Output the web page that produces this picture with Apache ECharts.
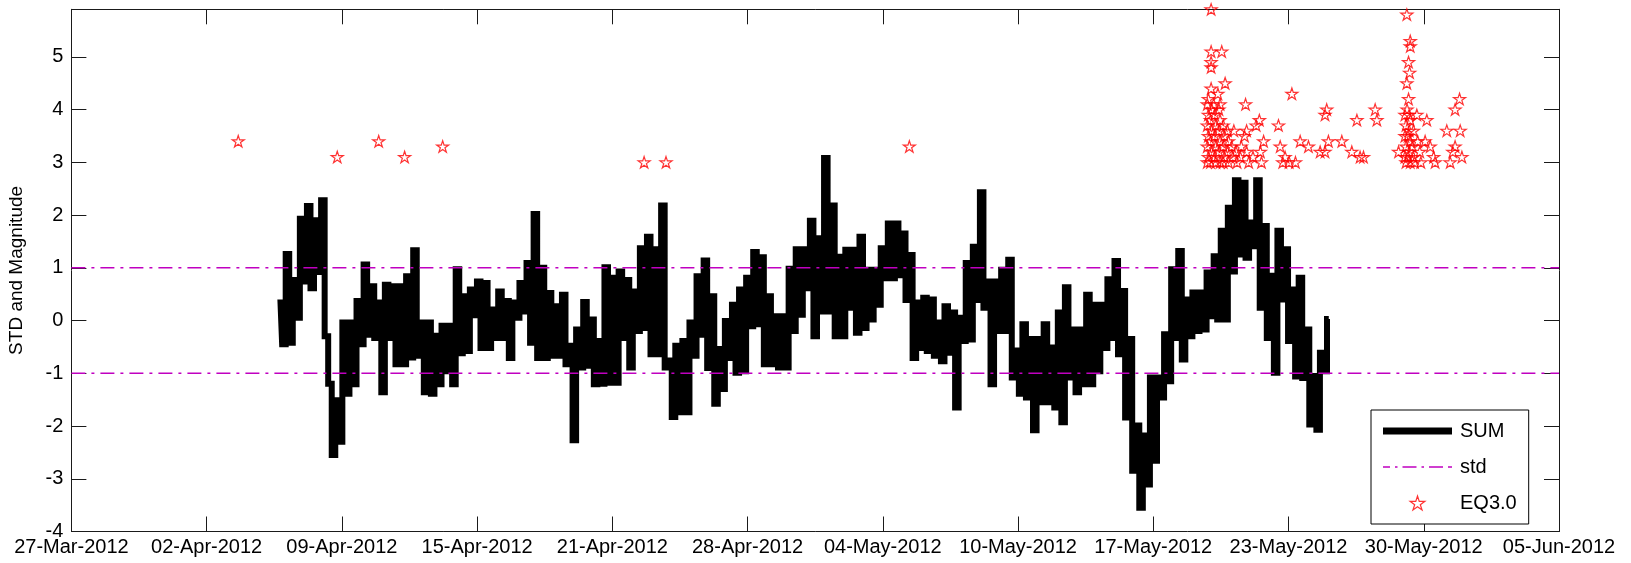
<!DOCTYPE html>
<html>
<head>
<meta charset="utf-8">
<script src="https://cdn.jsdelivr.net/npm/echarts@6/dist/echarts.min.js"></script>
<style>
html,body{margin:0;padding:0;background:#ffffff;}
#chart{width:1631px;height:563px;}
</style>
</head>
<body>
<div id="chart"></div>
<script>
// ---- data ----
const tickLabels = ['27-Mar-2012','02-Apr-2012','09-Apr-2012','15-Apr-2012','21-Apr-2012','28-Apr-2012',
  '04-May-2012','10-May-2012','17-May-2012','23-May-2012','30-May-2012','05-Jun-2012'];
const xSpanDays = 70;            // axis span in days
const sumStartDay = 9.8333;      // first SUM sample (days after axis start)
const sumStepDay = 1 / 6;        // 4-hour sampling
const sumValues = [
  0.40,-0.45,1.26,-0.42,0.77,0.05,1.93,0.74,2.17,0.61,1.90,0.92,2.28,-0.30,-1.20,-2.55,-1.51,-2.30,-0.04,-1.39,
  -0.04,-1.21,0.37,-0.45,1.06,-0.27,0.65,-0.33,0.34,-1.36,0.68,-0.33,0.65,-0.83,0.65,-0.83,0.84,-0.70,1.33,-0.67,
  -0.04,-1.36,-0.04,-1.39,-0.29,-1.21,-0.10,-0.96,-0.10,-1.21,0.97,-0.62,0.46,-0.58,0.59,0.10,0.74,-0.52,0.71,-0.52,
  0.21,-0.33,0.55,-0.33,0.37,-0.71,0.34,0.05,0.71,0.17,1.09,-0.42,2.02,-0.71,1.00,-0.71,0.52,-0.67,0.27,-0.67,
  0.49,-0.83,-0.48,-2.27,-0.17,-0.89,0.35,-0.86,0.02,-1.21,-0.39,-1.20,1.01,-1.18,0.81,-1.18,0.93,-0.33,0.77,-0.89,
  0.55,-0.20,1.37,-0.14,1.59,-0.64,1.35,-0.64,2.18,-0.89,-0.76,-1.83,-0.48,-1.74,-0.39,-1.74,-0.04,-0.67,0.84,-0.27,
  1.14,-0.90,0.46,-1.58,-0.54,-1.30,-0.01,-0.71,0.30,-0.99,0.59,-0.96,0.81,-0.11,1.30,-0.07,1.20,-0.83,0.46,-0.83,
  0.08,-0.89,0.08,-0.89,0.98,-0.20,1.35,0.11,1.35,0.61,1.89,-0.30,1.56,0.17,3.08,0.17,2.18,-0.30,1.21,-0.30,
  1.34,0.24,1.34,-0.23,1.59,-0.14,0.96,0.02,0.96,0.30,1.37,0.80,1.84,0.80,1.84,0.86,1.65,0.39,1.24,-0.71,
  0.34,-0.52,0.43,-0.58,0.40,-0.67,-0.04,-0.77,0.27,-0.61,0.15,-1.65,0.05,-0.39,1.09,-0.36,1.40,0.39,2.43,0.24,
  0.74,-1.21,0.74,-0.20,0.96,-0.20,1.15,-1.08,-0.57,-1.39,-0.07,-1.46,-0.35,-2.08,-0.35,-1.55,-0.07,-1.55,-0.51,-1.65,
  0.15,-1.93,0.63,-1.08,-0.17,-1.36,-0.17,-1.21,0.49,-1.21,0.30,-0.96,0.30,-0.52,0.78,-0.33,1.13,-0.64,0.56,-1.84,
  -0.35,-2.85,-1.99,-3.55,-2.18,-3.11,-1.08,-2.66,-1.08,-1.46,-0.26,-1.15,0.97,-0.33,1.32,-0.74,0.40,-0.30,0.53,-0.20,
  0.53,-0.17,0.91,0.08,1.22,0.02,1.70,0.02,2.14,0.93,2.66,1.25,2.61,1.19,1.86,1.41,2.66,0.24,1.79,-0.33,
  0.85,-0.99,1.70,0.40,1.35,-0.39,0.59,-1.06,0.81,-1.09,-0.17,-1.97,-1.05,-2.07,-0.61,-0.96,0.03
];
const stdLevels = [1, -1];
const eqDays = [
  7.85,12.51,14.46,15.68,17.47,26.95,27.98,39.43,
  53.63,53.63,54.13,53.63,53.63,54.29,53.63,53.95,53.50,53.75,54.05,
  53.45,53.50,53.45,53.50,53.45,53.50,53.45,
  53.65,53.60,53.65,53.60,53.65,53.60,
  53.80,53.85,53.80,53.85,53.80,53.85,
  54.00,54.05,54.00,54.05,54.00,54.05,
  54.20,54.25,54.20,54.25,54.20,
  54.40,54.45,54.40,54.45,
  54.60,54.65,54.70,54.85,54.80,
  55.00,55.05,55.20,55.25,55.30,55.30,55.40,
  55.60,55.75,55.90,55.95,56.00,56.10,
  56.80,56.88,57.43,57.11,57.00,57.30,57.60,57.82,58.21,58.76,59.07,58.99,59.15,58.99,59.78,60.25,60.64,60.49,60.80,61.35,61.43,62.45,
  62.84,63.00,63.00,62.92,62.97,62.84,62.92,62.85,
  62.75,62.80,62.75,62.80,62.75,62.80,
  62.95,63.00,62.95,63.00,62.95,63.00,62.90,62.90,
  63.15,63.10,63.15,63.20,
  63.31,63.35,63.45,63.50,
  63.78,63.70,63.94,64.10,64.17,
  64.72,65.35,65.11,65.32,65.11,65.43,64.88,65.00
];
const eqMagnitudes = [
  3.4,3.1,3.4,3.1,3.3,3.0,3.0,3.3,
  5.9,5.1,5.1,4.9,4.8,4.5,4.4,4.3,4.2,4.1,4.1,
  4.1,3.9,3.7,3.5,3.3,3.1,3.0,
  4.0,3.8,3.6,3.4,3.2,3.0,
  3.9,3.7,3.5,3.3,3.1,3.0,
  4.0,3.8,3.6,3.4,3.2,3.0,
  3.7,3.5,3.3,3.1,3.0,
  3.6,3.4,3.2,3.0,
  3.3,3.1,3.6,3.0,3.2,
  3.1,3.3,3.5,4.1,3.6,3.2,3.0,
  3.1,3.7,3.8,3.2,3.0,3.4,
  3.7,3.3,4.3,3.1,3.0,3.0,3.0,3.4,3.3,3.2,4.0,3.9,3.4,3.2,3.4,3.2,3.1,3.8,3.1,4.0,3.8,3.2,
  5.8,5.3,5.2,4.9,4.7,4.5,4.2,4.0,
  3.9,3.7,3.5,3.3,3.1,3.0,
  3.9,3.8,3.6,3.4,3.2,3.0,3.5,3.1,
  3.6,3.3,3.1,3.0,
  3.9,3.4,3.2,3.0,
  3.8,3.4,3.3,3.1,3.0,
  3.6,3.6,4.0,4.2,3.3,3.1,3.0,3.2
];
const yMin = -4, yMax = 5.9;

// ---- build ----
const FONT = "'Liberation Sans', Arial, Helvetica, sans-serif";
const xTickStep = xSpanDays / (tickLabels.length - 1);
const sumData = sumValues.map((v, i) => [sumStartDay + i * sumStepDay, v]);
const eqData = eqDays.map((d, i) => [d, eqMagnitudes[i]]);
const STAR = 'path://M50,0 L61.2,34.5 L97.6,34.5 L68.2,55.9 L79.4,90.5 L50,69.1 L20.6,90.5 L31.8,55.9 L2.4,34.5 L38.8,34.5 Z';
const SUM_ICON = 'path://M0,0 L69,0 L69,7 L0,7 Z';
const STD_ICON = 'path://M0,0 L7,0 L7,1.4 L0,1.4 Z M12,0 L14.5,0 L14.5,1.4 L12,1.4 Z M19.5,0 L33.5,0 L33.5,1.4 L19.5,1.4 Z ' +
  'M38.5,0 L41,0 L41,1.4 L38.5,1.4 Z M46,0 L60,0 L60,1.4 L46,1.4 Z M65,0 L69,0 L69,1.4 L65,1.4 Z';
const AXC = '#1a1a1a';
const MAG = '#c000c0';

function xLabel(v) {
  const k = Math.round(v / xTickStep);
  return Math.abs(v - k * xTickStep) < 1e-6 ? (tickLabels[k] || '') : '';
}
function yLabel(v) {
  return Math.abs(v - Math.round(v)) < 1e-9 ? String(Math.round(v)) : '';
}
const baseX = {
  type: 'value', min: 0, max: xSpanDays, interval: xTickStep,
  axisLine: {show: true, onZero: false, lineStyle: {color: AXC, width: 1}},
  axisTick: {show: true, inside: true, length: 15, lineStyle: {color: AXC, width: 1}},
  splitLine: {show: false}
};
const baseY = {
  type: 'value', min: yMin, max: yMax, interval: 1,
  axisLine: {show: true, onZero: false, lineStyle: {color: AXC, width: 1}},
  axisTick: {show: true, inside: true, length: 15, lineStyle: {color: AXC, width: 1}},
  splitLine: {show: false}
};

const chart = echarts.init(document.getElementById('chart'), null, {renderer: 'canvas'});
chart.setOption({
  animation: false,
  backgroundColor: '#ffffff',
  grid: {left: 71.4, right: 72, top: 9.3, bottom: 31.5, containLabel: false, outerBoundsMode: 'none'},
  xAxis: [
    Object.assign({}, baseX, {position: 'bottom',
      axisLabel: {show: true, formatter: xLabel, color: '#000', fontSize: 20, fontFamily: FONT, margin: 6,
        showMinLabel: true, showMaxLabel: true, hideOverlap: false}}),
    Object.assign({}, baseX, {position: 'top', axisLabel: {show: false}})
  ],
  yAxis: [
    Object.assign({}, baseY, {position: 'left',
      name: 'STD and Magnitude', nameLocation: 'middle', nameGap: 45,
      nameTextStyle: {color: '#000', fontSize: 19, fontFamily: FONT},
      axisLabel: {show: true, formatter: yLabel, color: '#000', fontSize: 20, fontFamily: FONT, margin: 8,
        showMinLabel: true, showMaxLabel: false}}),
    Object.assign({}, baseY, {position: 'right', axisLabel: {show: false}})
  ],
  legend: {
    show: true, orient: 'vertical', left: 1371, top: 410,
    padding: [11, 12, 11, 12], itemGap: 16, itemWidth: 69, itemHeight: 14,
    backgroundColor: '#ffffff', borderColor: '#000', borderWidth: 1, borderRadius: 0,
    selectedMode: false, symbolKeepAspect: true,
    textStyle: {color: '#000', fontSize: 20, fontFamily: FONT, lineHeight: 14, padding: [0, 0, 0, 3]},
    data: [
      {name: 'SUM', icon: SUM_ICON, itemStyle: {color: '#000000', borderWidth: 0}},
      {name: 'std', icon: STD_ICON, itemStyle: {color: MAG, borderWidth: 0}},
      {name: 'EQ3.0', icon: STAR, itemStyle: {color: 'rgba(255,255,255,0)', borderColor: '#ff0000', borderWidth: 1.2}}
    ]
  },
  series: [
    {
      name: 'SUM', type: 'line', data: sumData, xAxisIndex: 0, yAxisIndex: 0,
      symbol: 'none', showSymbol: false, step: 'middle', z: 2,
      lineStyle: {color: '#000000', width: 6, join: 'miter', cap: 'butt'},
      itemStyle: {color: '#000000'}, emphasis: {disabled: true}
    },
    ...stdLevels.map(lv => ({
      name: 'std', type: 'line', data: [[0, lv], [xSpanDays, lv]], xAxisIndex: 0, yAxisIndex: 0,
      symbol: 'none', showSymbol: false, z: 3,
      lineStyle: {color: MAG, width: 1.3, type: [14, 6, 3, 6]},
      itemStyle: {color: MAG}, emphasis: {disabled: true}
    })),
    {
      name: 'EQ3.0', type: 'scatter', data: eqData, xAxisIndex: 0, yAxisIndex: 0,
      symbol: STAR, symbolSize: 12, symbolKeepAspect: true, clip: false, z: 4,
      itemStyle: {color: 'rgba(255,255,255,0)', borderColor: '#ff0000', borderWidth: 1.2},
      emphasis: {disabled: true}
    }
  ]
});
</script>
</body>
</html>
